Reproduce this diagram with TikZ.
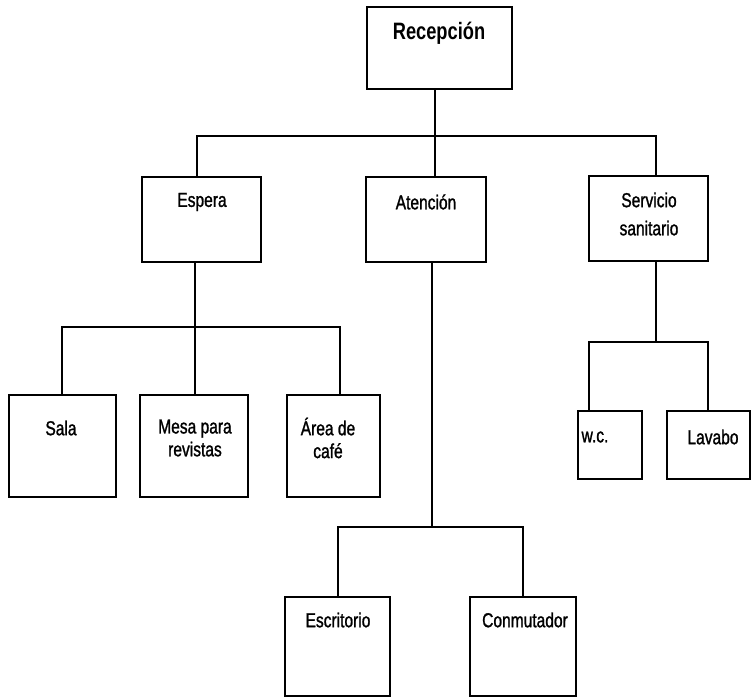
\documentclass[tikz,border=0pt]{standalone}
\usepackage{fontspec}
\setmainfont{Liberation Sans}[FakeStretch=0.77]
\newfontfamily\lblfont{Liberation Sans}[FakeStretch=0.77, FakeBold=1.2]
\usetikzlibrary{fit}

\tikzset{
  box/.style={draw=black, line width=1.5pt, fill=none, inner sep=0pt, line join=miter},
  conn/.style={draw=black, line width=1.5pt, line cap=rect},
  lbl/.style={inner sep=0pt, align=center, font=\lblfont\fontsize{11.5}{13}\selectfont},
  head/.style={inner sep=0pt, font=\fontsize{13.5}{15}\selectfont\bfseries}
}

\begin{document}
\begin{tikzpicture}[x=0.02cm, y=-0.02cm]
  \useasboundingbox[fill=white] (0,0) rectangle (752,697);

  % --- boxes ---
  \node[box, fit={(367,7) (512,89)}]    (rec)  {};
  \node[box, fit={(142,177) (261,262)}] (esp)  {};
  \node[box, fit={(366,177) (486,262)}] (ate)  {};
  \node[box, fit={(589,176) (708,261)}] (ser)  {};
  \node[box, fit={(9,395) (116,497)}]   (sala) {};
  \node[box, fit={(140,395) (248,497)}] (mesa) {};
  \node[box, fit={(287,395) (380,497)}] (area) {};
  \node[box, fit={(578,411) (642,479)}] (wc)   {};
  \node[box, fit={(667,411) (750,479)}] (lav)  {};
  \node[box, fit={(285,597) (390,696)}] (esc)  {};
  \node[box, fit={(470,597) (576,696)}] (con)  {};

  % --- labels ---
  \node[head] (tRec)  at (439,33)  {Recepción};
  \node[lbl]  (tEsp)  at (202,202) {Espera};
  \node[lbl]  (tAte)  at (426,202) {Atención};
  \node[lbl]  (tSer)  at (649,214) {Servicio\\[3pt]sanitario};
  \node[lbl]  (tSala) at (61,428)  {Sala};
  \node[lbl]  (tMesa) at (195,438) {Mesa para\\revistas};
  \node[lbl]  (tArea) at (328,438) {Área de\\café};
  \node[lbl]  (tWc)   at (595,437) {w.c.};
  \node[lbl]  (tLav)  at (713,437) {Lavabo};
  \node[lbl]  (tEsc)  at (338,620) {Escritorio};
  \node[lbl]  (tCon)  at (525,620) {Conmutador};

  % --- junction points ---
  \coordinate (jTopL) at (197,136);
  \coordinate (jTopM) at (435,136);
  \coordinate (jTopR) at (656,136);
  \coordinate (jE)  at (195,327);
  \coordinate (jEL) at (62,327);
  \coordinate (jER) at (340,327);
  \coordinate (jA)  at (432,527);
  \coordinate (jAL) at (338,527);
  \coordinate (jAR) at (523,527);
  \coordinate (jS)  at (656,342);
  \coordinate (jSL) at (589,342);
  \coordinate (jSR) at (708,342);

  % --- first level ---
  \draw[conn] (rec.south -| jTopM) -- (ate.north -| jTopM);
  \draw[conn] (jTopL) -- (jTopR);
  \draw[conn] (jTopL) -- (esp.north -| jTopL);
  \draw[conn] (jTopR) -- (ser.north -| jTopR);

  % --- Espera branch ---
  \draw[conn] (esp.south -| jE) -- (jE);
  \draw[conn] (jEL) -- (jER);
  \draw[conn] (jEL) -- (sala.north -| jEL);
  \draw[conn] (jE)  -- (mesa.north -| jE);
  \draw[conn] (jER) -- (area.north -| jER);

  % --- Atención branch ---
  \draw[conn] (ate.south -| jA) -- (jA);
  \draw[conn] (jAL) -- (jAR);
  \draw[conn] (jAL) -- (esc.north -| jAL);
  \draw[conn] (jAR) -- (con.north -| jAR);

  % --- Servicio sanitario branch ---
  \draw[conn] (ser.south -| jS) -- (jS);
  \draw[conn] (jSL) -- (jSR);
  \draw[conn] (jSL) -- (wc.north -| jSL);
  \draw[conn] (jSR) -- (lav.north -| jSR);
\end{tikzpicture}
\end{document}
